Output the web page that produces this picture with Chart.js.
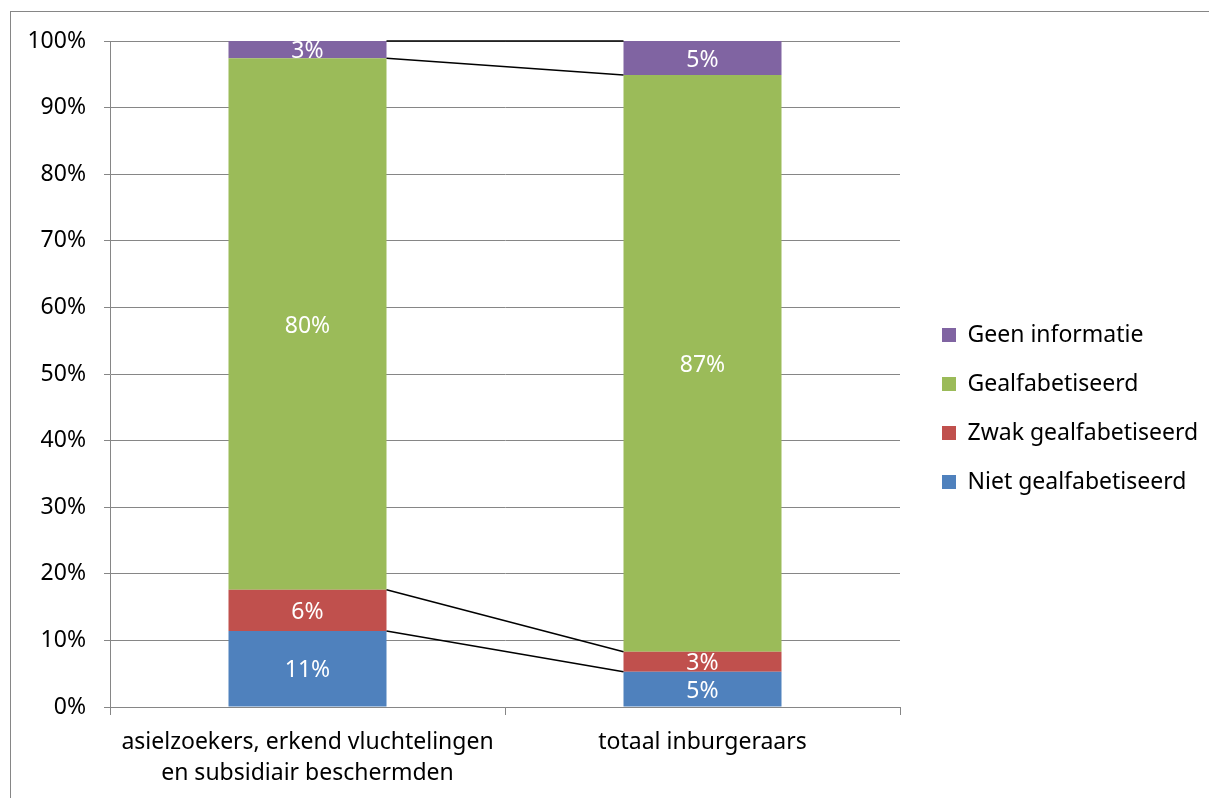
<!DOCTYPE html>
<html>
<head>
<meta charset="utf-8">
<script src="https://cdn.jsdelivr.net/npm/chart.js@4/dist/chart.umd.min.js"></script>
<style>
html,body{margin:0;padding:0;background:#fff;}
#wrap{width:1209px;height:798px;position:relative;}
</style>
</head>
<body>
<div id="wrap"><canvas id="c" width="1209" height="798"></canvas></div>
<script>
const categories = [['asielzoekers, erkend vluchtelingen', 'en subsidiair beschermden'], 'totaal inburgeraars'];
const seriesNames = ['Niet gealfabetiseerd', 'Zwak gealfabetiseerd', 'Gealfabetiseerd', 'Geen informatie'];
const nietGealfabetiseerd = [11.4, 5.3];
const zwakGealfabetiseerd = [6.2, 3.0];
const gealfabetiseerd = [79.8, 86.6];
const geenInformatie = [2.6, 5.1];
const yTicks = [0, 10, 20, 30, 40, 50, 60, 70, 80, 90, 100];

const colors = ['#4F81BD', '#C0504D', '#9BBB59', '#8064A2'];
const FONT = '"Noto Sans", "Open Sans", sans-serif';
const GRAY = '#868686';

const framePlugin = {
  id: 'frame',
  beforeDraw(chart) {
    const ctx = chart.ctx;
    ctx.save();
    ctx.fillStyle = '#fff';
    ctx.fillRect(0, 0, chart.width, chart.height);
    ctx.strokeStyle = GRAY;
    ctx.lineWidth = 1;
    ctx.strokeRect(10.5, 11.5, chart.width + 20, chart.height + 20);
    ctx.restore();
  }
};

const legendPlace = {
  id: 'legendPlace',
  beforeLayout(chart) {
    const lg = chart.legend;
    if (lg && !lg._patched) {
      const f = lg.fit;
      lg.fit = function () { f.call(this); this.width = 309; };
      lg._patched = true;
    }
  },
  afterLayout(chart) {
    const lg = chart.legend;
    if (lg) {
      lg.left += 16; lg.right += 16;
      lg.top -= 11; lg.bottom -= 11;
    }
  }
};

const seriesLines = {
  id: 'seriesLines',
  afterDatasetsDraw(chart) {
    const ctx = chart.ctx;
    ctx.save();
    ctx.strokeStyle = '#000';
    ctx.lineWidth = 1.5;
    chart.data.datasets.forEach((ds, i) => {
      const meta = chart.getDatasetMeta(i);
      const a = meta.data[0], b = meta.data[1];
      if (!a || !b) return;
      ctx.beginPath();
      ctx.moveTo(a.x + a.width / 2, a.y);
      ctx.lineTo(b.x - b.width / 2, b.y);
      ctx.stroke();
    });
    ctx.restore();
  }
};

const valueLabels = {
  id: 'valueLabels',
  afterDatasetsDraw(chart) {
    const ctx = chart.ctx;
    ctx.save();
    ctx.fillStyle = '#fff';
    ctx.font = '23px ' + FONT;
    ctx.textAlign = 'center';
    ctx.textBaseline = 'middle';
    chart.data.datasets.forEach((ds, i) => {
      const meta = chart.getDatasetMeta(i);
      meta.data.forEach((bar, j) => {
        const v = ds.data[j];
        ctx.fillText(Math.round(v) + '%', bar.x, (bar.y + bar.base) / 2 + 2);
      });
    });
    ctx.restore();
  }
};

const seriesData = [nietGealfabetiseerd, zwakGealfabetiseerd, gealfabetiseerd, geenInformatie];

new Chart(document.getElementById('c'), {
  type: 'bar',
  data: {
    labels: categories,
    datasets: seriesData.map((d, i) => ({
      label: seriesNames[i],
      data: d,
      backgroundColor: colors[i],
      borderWidth: 0,
      categoryPercentage: 1,
      barPercentage: 0.4
    }))
  },
  options: {
    responsive: false,
    animation: false,
    devicePixelRatio: 1,
    layout: { padding: { top: 41, left: 10, right: 0, bottom: 0 } },
    plugins: {
      tooltip: { enabled: false },
      legend: {
        position: 'right',
        reverse: true,
        labels: {
          color: '#000',
          font: { family: FONT, size: 23 },
          boxWidth: 14,
          boxHeight: 14,
          padding: 26
        }
      }
    },
    scales: {
      x: {
        stacked: true,
        grid: { offset: true, drawOnChartArea: false, drawTicks: true, tickLength: 8, color: GRAY },
        border: { display: true, color: GRAY },
        ticks: {
          color: '#000',
          font: { family: FONT, size: 23, lineHeight: 1.35 },
          padding: 12,
          maxRotation: 0,
          autoSkip: false
        },
        afterFit(s) { s.height = 91; }
      },
      y: {
        stacked: true,
        min: 0,
        max: 100,
        grid: { color: GRAY, tickLength: 6, drawTicks: true },
        border: { display: true, color: GRAY },
        afterBuildTicks(s) { s.ticks = yTicks.map(v => ({ value: v })); },
        ticks: {
          color: '#000',
          font: { family: FONT, size: 23 },
          padding: 18,
          callback: v => v + '%'
        },
        afterFit(s) { s.width = 100; }
      }
    }
  },
  plugins: [framePlugin, legendPlace, seriesLines, valueLabels]
});
</script>
</body>
</html>
